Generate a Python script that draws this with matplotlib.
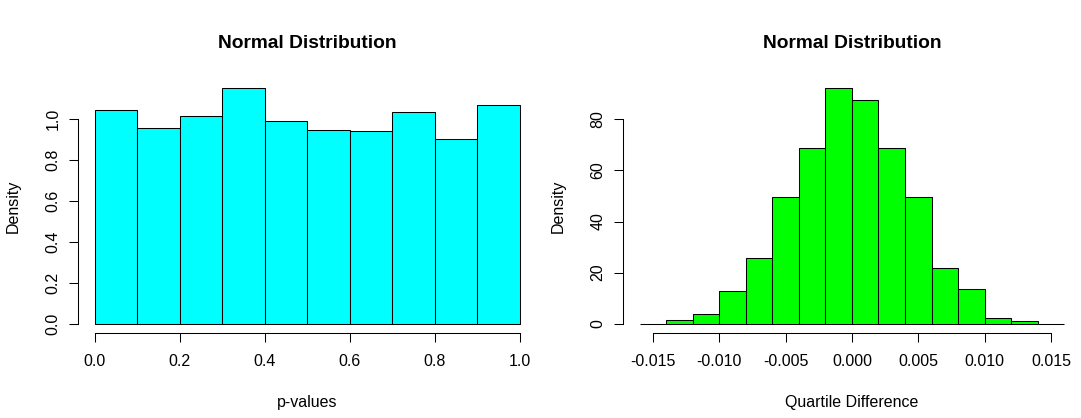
import matplotlib
matplotlib.use("Agg")
import matplotlib.pyplot as plt

# p-value histogram (density per bin)
p_breaks = [0.0, 0.1, 0.2, 0.3, 0.4, 0.5, 0.6, 0.7, 0.8, 0.9, 1.0]
p_density = [1.041, 0.953, 1.011, 1.148, 0.987, 0.943, 0.938, 1.031, 0.899, 1.067]
p_xticks = [0.0, 0.2, 0.4, 0.6, 0.8, 1.0]
p_xticklabels = ["0.0", "0.2", "0.4", "0.6", "0.8", "1.0"]
p_yticks = [0.0, 0.2, 0.4, 0.6, 0.8, 1.0]
p_yticklabels = ["0.0", "0.2", "0.4", "0.6", "0.8", "1.0"]

# quartile difference histogram
q_breaks = [-0.016, -0.014, -0.012, -0.010, -0.008, -0.006, -0.004, -0.002, 0.0,
            0.002, 0.004, 0.006, 0.008, 0.010, 0.012, 0.014, 0.016]
q_density = [0.0, 1.31, 3.66, 12.68, 25.88, 49.54, 68.63, 92.16, 87.58,
             69.0, 49.54, 21.96, 13.73, 2.35, 1.18, 0.0]
q_xticks = [-0.015, -0.010, -0.005, 0.0, 0.005, 0.010, 0.015]
q_xticklabels = ["-0.015", "-0.010", "-0.005", "0.000", "0.005", "0.010", "0.015"]
q_yticks = [0, 20, 40, 60, 80]
q_yticklabels = ["0", "20", "40", "60", "80"]

plt.rcParams["font.family"] = ["Liberation Sans", "DejaVu Sans"]
plt.rcParams["font.size"] = 11.5

W, H = 1081, 418
fig = plt.figure(figsize=(W / 100, H / 100), dpi=100)


def px_axes(x0, x1, ytop, ybot):
    return fig.add_axes([x0 / W, (H - ybot) / H, (x1 - x0) / W, (ybot - ytop) / H])


def r_hist(ax, breaks, dens, color, xticks, xlabels, yticks, ylabels, xlabel, title):
    lefts = breaks[:-1]
    widths = [b - a for a, b in zip(breaks[:-1], breaks[1:])]
    ax.bar(lefts, dens, width=widths, align="edge", color=color,
           edgecolor="black", linewidth=0.75)
    # R style 4% padding
    xr = breaks[-1] - breaks[0]
    ax.set_xlim(breaks[0] - 0.04 * xr, breaks[-1] + 0.04 * xr)
    ymax = max(dens)
    ax.set_ylim(-0.04 * ymax, ymax * 1.04)

    for s in ["top", "right"]:
        ax.spines[s].set_visible(False)
    ax.spines["left"].set_bounds(yticks[0], yticks[-1])
    ax.spines["bottom"].set_bounds(xticks[0], xticks[-1])
    ax.spines["left"].set_linewidth(0.75)
    ax.spines["bottom"].set_linewidth(0.75)

    ax.set_xticks(xticks, xlabels)
    ax.set_yticks(yticks, ylabels)
    ax.tick_params(direction="out", length=6.5, width=0.75, colors="black")
    ax.tick_params(axis="x", pad=8.5)
    ax.tick_params(axis="y", pad=6, labelrotation=90)
    for lab in ax.get_yticklabels():
        lab.set_verticalalignment("center")

    bb = ax.get_position()
    xc = (bb.x0 + bb.x1) / 2
    fig.text(xc, 1 - 48 / H, title, ha="center", va="baseline",
             fontsize=13.8, fontweight="bold")
    fig.text(xc, 1 - 407 / H, xlabel, ha="center", va="baseline")
    return bb


ax1 = px_axes(78, 536.5, 79, 333)
bb = r_hist(ax1, p_breaks, p_density, "#00FFFF", p_xticks, p_xticklabels,
            p_yticks, p_yticklabels, "p-values", "Normal Distribution")
fig.text(13.5 / W, (bb.y0 + bb.y1) / 2, "Density", rotation=90,
         ha="center", va="center")

ax2 = px_axes(622.7, 1081.2, 79, 333)
bb = r_hist(ax2, q_breaks, q_density, "#00FF00", q_xticks, q_xticklabels,
            q_yticks, q_yticklabels, "Quartile Difference", "Normal Distribution")
fig.text(558 / W, (bb.y0 + bb.y1) / 2, "Density", rotation=90,
         ha="center", va="center")

fig.savefig("out.png", dpi=100, facecolor="white")
